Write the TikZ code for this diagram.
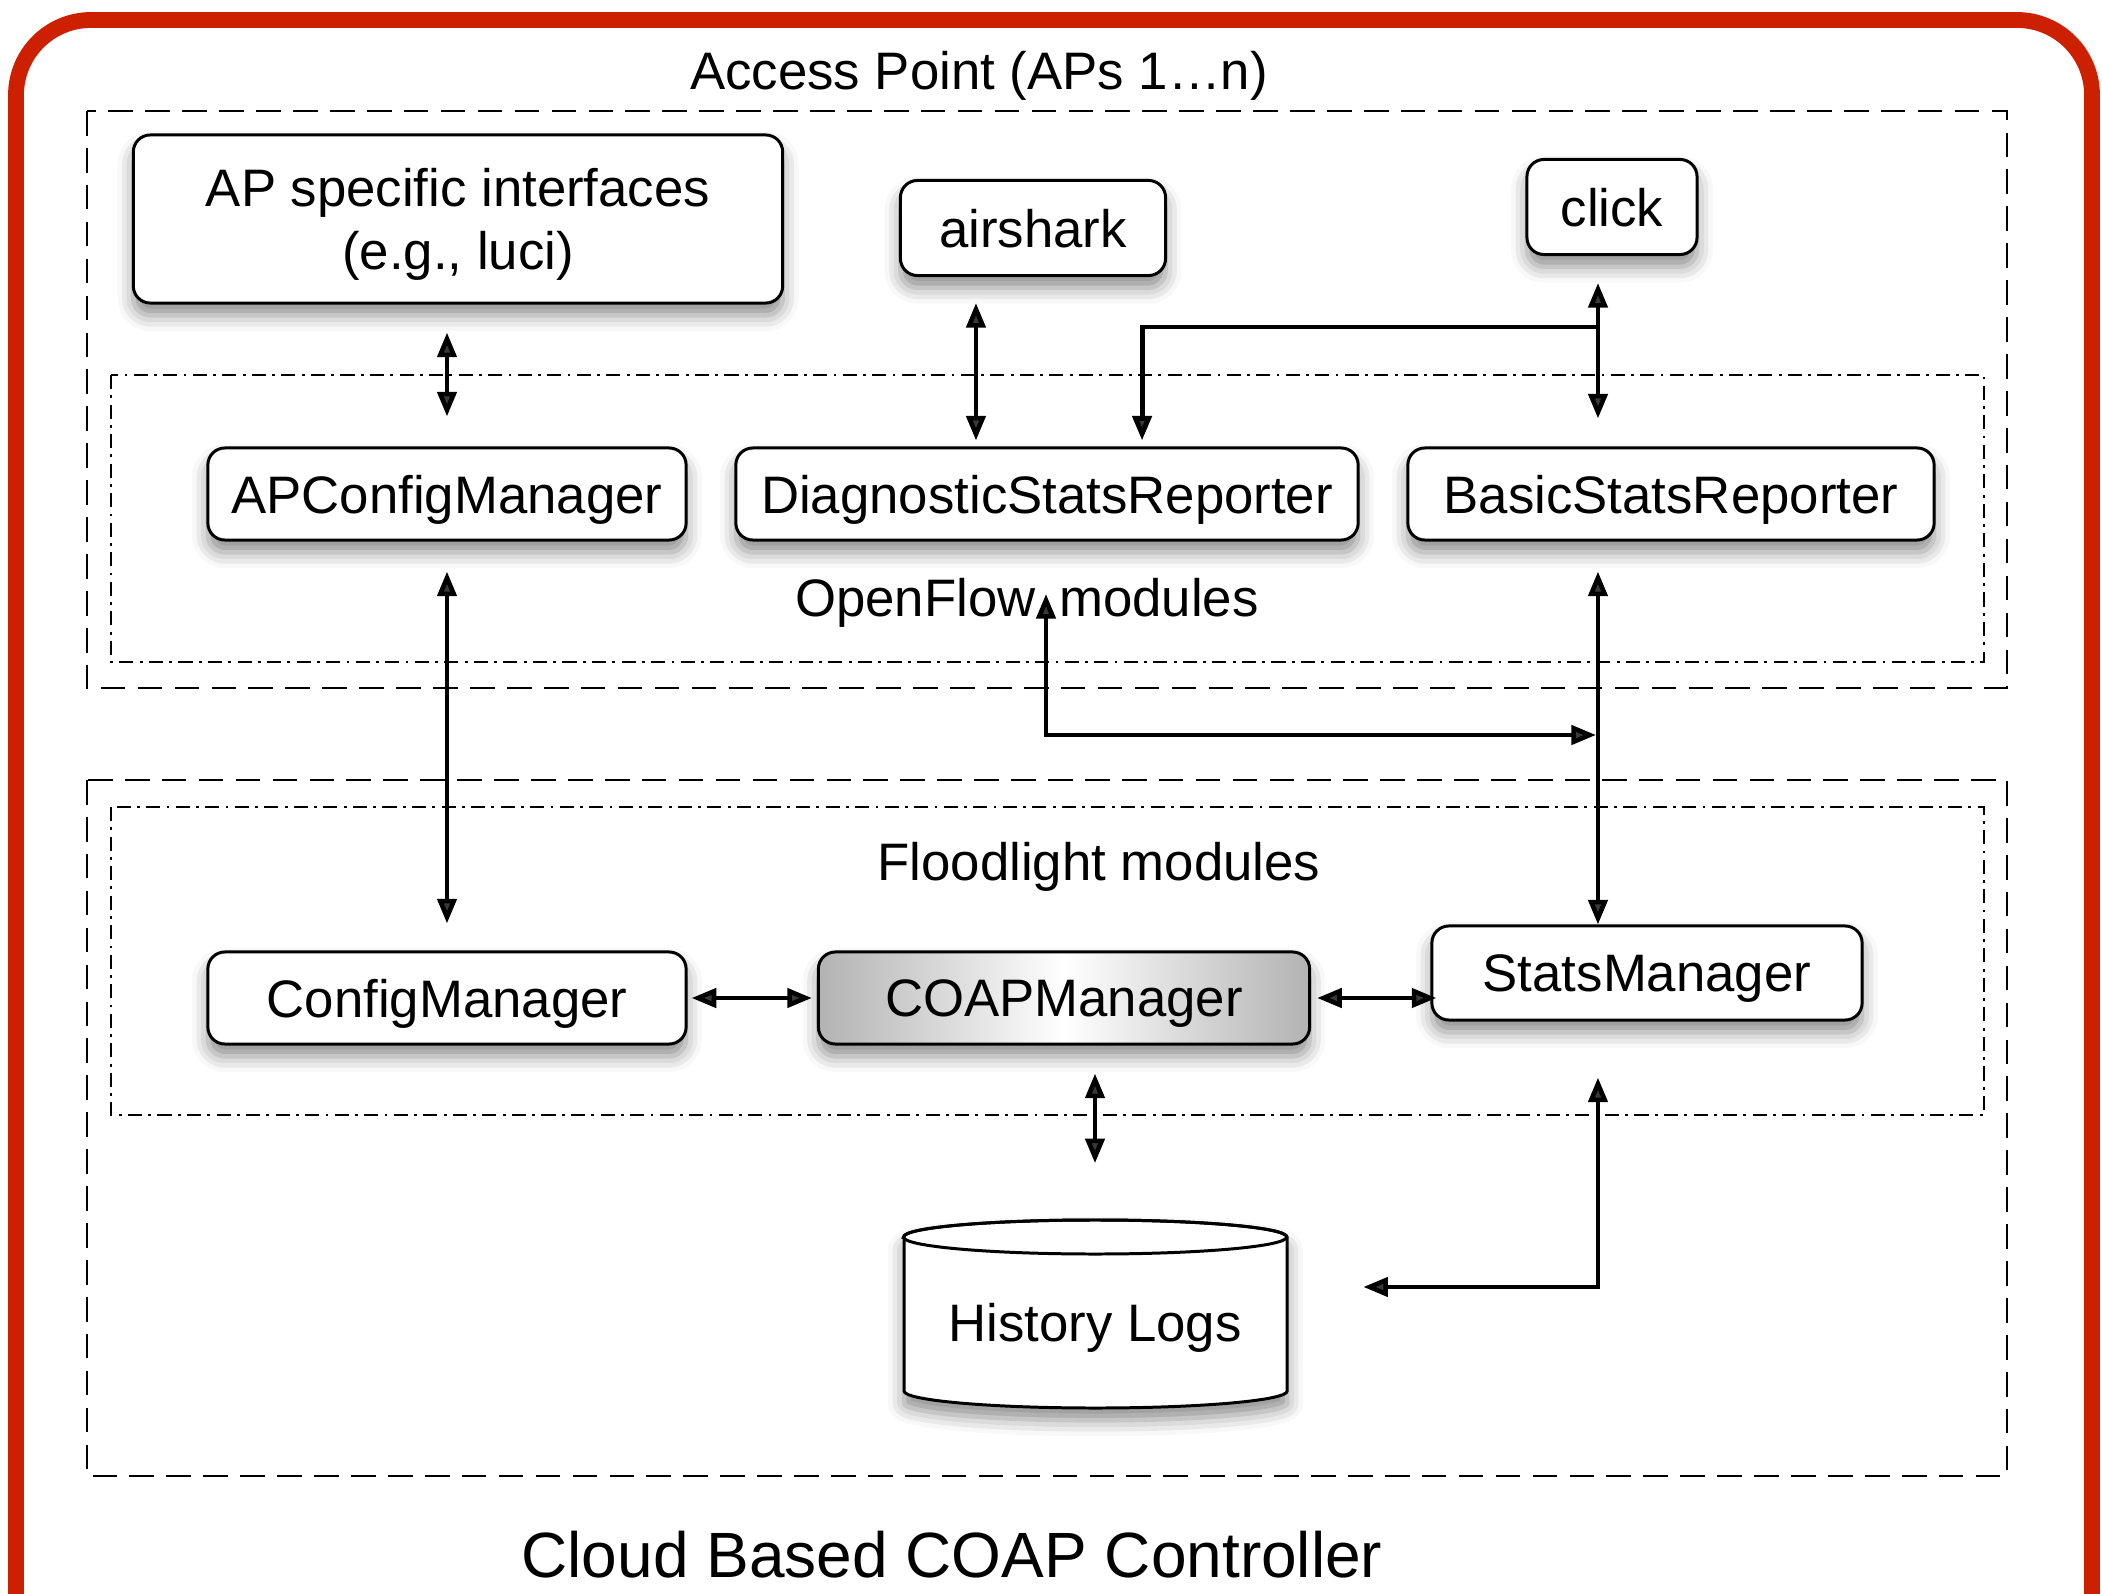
\documentclass[tikz,border=0pt]{standalone}
\usepackage{fontspec}
\setmainfont{Liberation Sans}
\usetikzlibrary{arrows.meta,shadows.blur,calc}
\definecolor{borderred}{RGB}{204,32,0}
\begin{document}
\begin{tikzpicture}[x=0.01cm,y=-0.01cm,
  box/.style={draw, line width=0.85pt, rounded corners=0.17cm, fill=white, inner sep=0pt,
    font=\fontsize{15}{18}\selectfont, align=center, text depth=0pt,
    blur shadow={shadow xshift=0pt, shadow yshift=-3.5pt, shadow blur radius=4.5pt, shadow opacity=45}},
  lbl/.style={inner sep=0pt, text depth=0pt, font=\fontsize{15}{18}\selectfont},
  outerbox/.style={line width=0.6pt, dash pattern=on 7pt off 3.5pt},
  innerbox/.style={line width=0.6pt, dash pattern=on 4pt off 1.8pt on 0.8pt off 1.8pt},
  tip/.tip={Triangle[length=7pt,width=5.4pt]},
  bi/.style={line width=1.3pt, tip-tip},
  uni/.style={line width=1.4pt, -tip}]

\useasboundingbox (0,0) rectangle (2102,1594);
\clip (0,0) rectangle (2102,1594);

% red frame
\draw[borderred, line width=4.5pt, rounded corners=0.75cm] (16,20) rectangle (2092,1750);

% group frames
\draw[outerbox] (87,111) rectangle (2007,688);
\draw[innerbox] (111,375) rectangle (1984,662);
\draw[outerbox] (87,780) rectangle (2007,1476);
\draw[innerbox] (111,807) rectangle (1984,1115);

% labels
\node[lbl] (aplbl) at (979,70) {Access Point (APs 1…n)};
\node[lbl] (oflbl) at (1027,597) {OpenFlow\hspace{0.45em}modules};
\node[lbl] (fllbl) at (1099,861) {Floodlight modules};
\node[inner sep=0pt, font=\fontsize{18.2}{21}\selectfont] (ctrllbl) at (952,1555) {Cloud Based COAP Controller};

% boxes
\node[box, minimum width=6.49cm, minimum height=1.68cm] (apspec) at (458,219) {AP specific interfaces\\(e.g., luci)};
\node[box, minimum width=2.65cm, minimum height=0.95cm] (airshark) at (1033,228) {airshark};
\node[box, minimum width=1.70cm, minimum height=0.95cm] (click) at (1612,207) {click};
\node[box, minimum width=4.78cm, minimum height=0.92cm] (apcm) at (447,494) {APConfigManager};
\node[box, minimum width=6.22cm, minimum height=0.92cm] (dsr) at (1047,494) {DiagnosticStatsReporter};
\node[box, minimum width=5.26cm, minimum height=0.92cm] (bsr) at (1671,494) {BasicStatsReporter};
\node[box, minimum width=4.78cm, minimum height=0.92cm] (cm) at (447,998) {ConfigManager};
\node[box, minimum width=4.91cm, minimum height=0.92cm, left color=gray!60, right color=gray!60, middle color=white] (coap) at (1064,998) {COAPManager};
\node[box, minimum width=4.30cm, minimum height=0.94cm] (sm) at (1647,973) {StatsManager};

% history logs cylinder
\path[fill=white, line width=0.85pt, draw,
  blur shadow={shadow xshift=0pt, shadow yshift=-3.5pt, shadow blur radius=4.5pt, shadow opacity=45}]
  (904,1237) -- (904,1391) arc[start angle=180, end angle=360, x radius=1.915cm, y radius=0.17cm]
  -- (1287,1237) arc[start angle=0, end angle=180, x radius=1.915cm, y radius=0.17cm] -- cycle;
\draw[line width=0.85pt] (1095,1237) ellipse [x radius=1.915cm, y radius=0.17cm];
\node[inner sep=0pt, minimum width=3.83cm, minimum height=1.88cm] (logs) at (1095,1314) {};
\node[lbl] (logstxt) at (1095,1322) {History Logs};

% connectors
\draw[bi, shorten <=0.28cm, shorten >=0.3cm] (apspec.south -| apcm.north) -- (apcm.north);
\draw[bi, shorten <=0.26cm, shorten >=0.06cm] ([xshift=-0.57cm]airshark.south) -- ([xshift=-0.57cm]airshark.south |- dsr.north);
\draw[bi, shorten <=0.27cm, shorten >=0.28cm] ([xshift=-0.14cm]click.south) -- ([xshift=-0.14cm]click.south |- bsr.north);
\coordinate (br) at (1598,327);
\draw[uni, shorten >=0.06cm] (br) -| ([xshift=0.95cm]dsr.north);
\draw[bi, shorten <=0.3cm, shorten >=0.27cm] (apcm.south) -- (cm.north);
\draw[bi, shorten <=0.3cm] ([xshift=-0.73cm]bsr.south) -- ([xshift=-0.73cm]bsr.south |- sm.north);
\coordinate (oftip) at (1046,594);
\coordinate (ofend) at (1596,735);
\draw[bi] (oftip) |- (ofend);
\draw[bi, shorten <=0.04cm, shorten >=0.05cm] (cm.east) -- (coap.west);
\draw[bi] ([xshift=0.06cm]coap.east) -- ([xshift=0.06cm]coap.east -| sm.west);
\draw[bi, shorten <=0.28cm, shorten >=0.56cm] (coap.south -| logs.north) -- (logs.north);
\draw[bi, shorten <=0.56cm, shorten >=0.76cm] ([xshift=-0.49cm]sm.south) |- ([yshift=0.27cm]logs.east);
\end{tikzpicture}
\end{document}
